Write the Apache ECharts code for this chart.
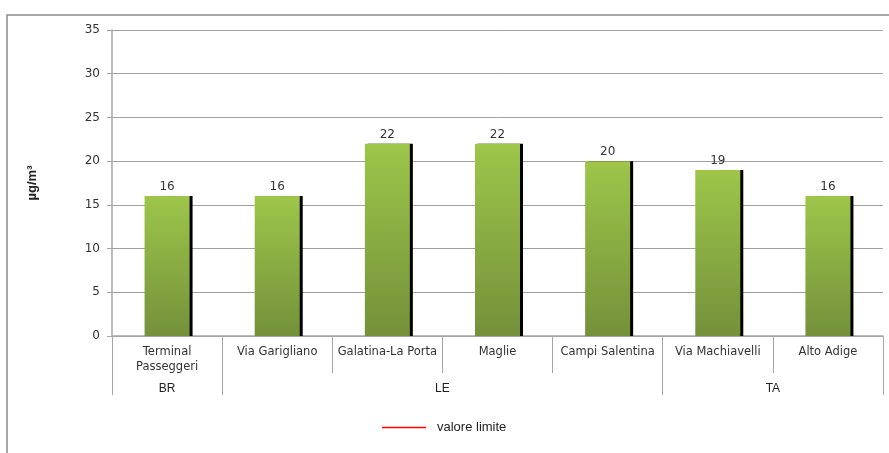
<!DOCTYPE html>
<html>
<head>
<meta charset="utf-8">
<script src="https://cdn.jsdelivr.net/npm/echarts@6/dist/echarts.min.js"></script>
<style>
  html, body { margin: 0; padding: 0; background: #fff; }
  #chart { width: 889px; height: 453px; }
</style>
</head>
<body>
<div id="chart"></div>
<script>
// Stations (first-level categories) and their province groups
const stations = ['Terminal\nPasseggeri', 'Via Garigliano', 'Galatina-La Porta', 'Maglie', 'Campi Salentina', 'Via Machiavelli', 'Alto Adige'];
const groups = ['BR', 'LE', 'TA'];
const groupSizes = [1, 4, 2];
// Annual mean values, µg/m³
const values = [16, 16, 22, 22, 20, 19, 16];
// Annual limit value
const limitValues = [40, 40, 40, 40, 40, 40, 40];
const yTicks = [0, 5, 10, 15, 20, 25, 30, 35];

// Group boundaries and centres along the category span
const groupBounds = [0];
groupSizes.forEach(function (n) { groupBounds.push(groupBounds[groupBounds.length - 1] + n); });
const groupCentres = groupSizes.map(function (n, i) { return groupBounds[i] + n / 2; });

const labelFont = 'DejaVu Sans';
const chart = echarts.init(document.getElementById('chart'));

chart.setOption({
  animation: false,
  backgroundColor: '#fff',
  graphic: [{
    type: 'rect',
    shape: { x: 7, y: 15, width: 1000, height: 1000 },
    style: { fill: 'none', stroke: '#8c8c8c', lineWidth: 1.5 },
    silent: true
  }],
  grid: { left: 112, right: 6, top: 30, bottom: 117 },
  legend: {
    left: 382,
    top: 421,
    padding: 0,
    itemWidth: 44,
    itemHeight: 1.5,
    itemGap: 8,
    data: [{ name: 'valore limite', icon: 'rect' }],
    textStyle: { fontFamily: 'Liberation Sans', fontSize: 13, color: '#222', padding: [0, 0, 0, 6] }
  },
  xAxis: [{
    type: 'category',
    data: stations,
    position: 'bottom',
    axisLine: { lineStyle: { color: '#a6a6a6', width: 1.5 } },
    axisTick: { show: true, interval: 0, length: 37, lineStyle: { color: '#a6a6a6' } },
    axisLabel: {
      interval: 0,
      margin: 9,
      fontFamily: labelFont,
      fontSize: 11.5,
      lineHeight: 15,
      color: '#333'
    }
  }, {
    type: 'value',
    min: 0,
    max: stations.length,
    position: 'bottom',
    axisLine: { show: false },
    splitLine: { show: false },
    axisTick: {
      show: true,
      customValues: groupBounds,
      length: 59,
      lineStyle: { color: '#a6a6a6' }
    },
    axisLabel: {
      customValues: groupCentres,
      margin: 47,
      fontFamily: 'Liberation Sans',
      fontSize: 12,
      color: '#222',
      formatter: function (v) {
        const i = groupCentres.indexOf(v);
        return i >= 0 ? groups[i] : '';
      }
    }
  }],
  yAxis: {
    type: 'value',
    min: yTicks[0],
    max: yTicks[yTicks.length - 1],
    interval: 5,
    name: 'µg/m³',
    nameLocation: 'middle',
    nameGap: 73,
    nameTextStyle: { fontFamily: 'Liberation Sans', fontSize: 13, fontWeight: 'bold', color: '#222' },
    axisLine: { show: true, lineStyle: { color: '#a6a6a6', width: 1.5 } },
    axisTick: { show: true, length: 5, lineStyle: { color: '#a6a6a6' } },
    axisLabel: { margin: 12, fontFamily: labelFont, fontSize: 12, color: '#333' },
    splitLine: { lineStyle: { color: '#a0a0a0', width: 1 } }
  },
  series: [{
    type: 'bar',
    name: 'media annua',
    xAxisIndex: 0,
    data: values,
    barWidth: 45,
    itemStyle: {
      color: new echarts.graphic.LinearGradient(0, 0, 0, 1, [
        { offset: 0, color: '#9dc64a' },
        { offset: 1, color: '#74913a' }
      ]),
      shadowColor: '#000',
      shadowBlur: 0,
      shadowOffsetX: 3,
      shadowOffsetY: 0
    },
    label: {
      show: true,
      position: 'top',
      distance: 3,
      fontFamily: labelFont,
      fontSize: 12,
      color: '#333'
    }
  }, {
    type: 'line',
    name: 'valore limite',
    xAxisIndex: 0,
    data: limitValues,
    symbol: 'none',
    clip: true,
    lineStyle: { color: '#ff0000', width: 1.5 },
    itemStyle: { color: '#ff0000' }
  }]
});
</script>
</body>
</html>
